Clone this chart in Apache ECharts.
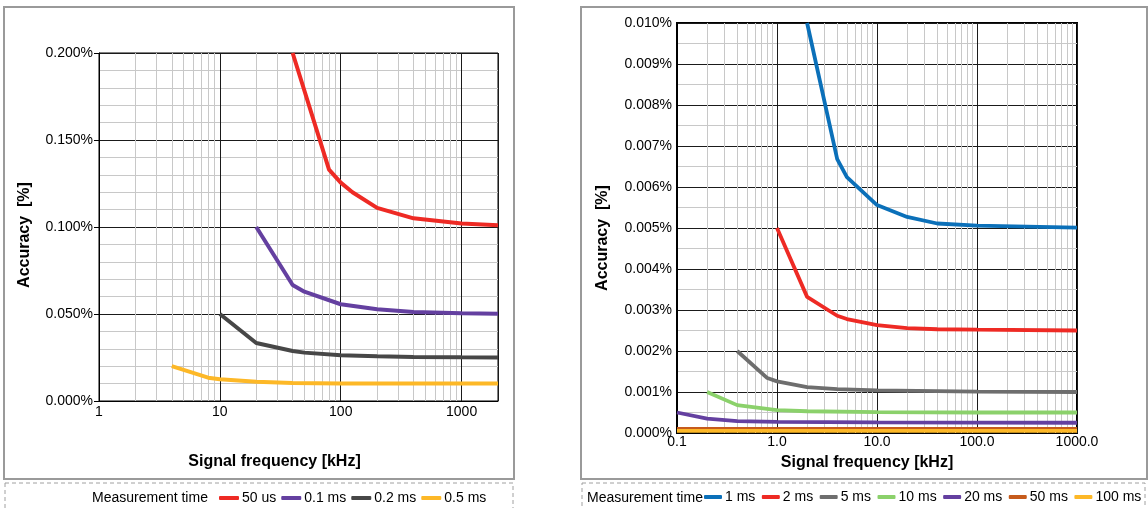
<!DOCTYPE html>
<html>
<head>
<meta charset="utf-8">
<script src="https://cdn.jsdelivr.net/npm/echarts@6/dist/echarts.min.js"></script>
<style>
html,body{margin:0;padding:0;background:#fff;}
#c{width:1148px;height:508px;}
</style>
</head>
<body>
<div id="c"></div>
<script>
// ---------- Left chart data (Accuracy in %) ----------
const leftNames = ['50 us', '0.1 ms', '0.2 ms', '0.5 ms'];
const L_us50_f = [40, 80, 100, 125, 200, 400, 1000, 2000];
const L_us50_v = [0.200, 0.133, 0.1255, 0.120, 0.111, 0.105, 0.102, 0.101];
const L_ms01_f = [20, 40, 50, 100, 200, 400, 1000, 2000];
const L_ms01_v = [0.100, 0.0667, 0.0628, 0.0556, 0.0527, 0.0511, 0.0504, 0.0502];
const L_ms02_f = [10, 20, 40, 50, 100, 200, 400, 1000, 2000];
const L_ms02_v = [0.050, 0.0333, 0.0287, 0.0278, 0.0263, 0.0257, 0.0253, 0.0251, 0.0250];
const L_ms05_f = [4, 8, 10, 20, 40, 100, 1000, 2000];
const L_ms05_v = [0.020, 0.0134, 0.0125, 0.0111, 0.0104, 0.0101, 0.0100, 0.0100];

// ---------- Right chart data (Accuracy in %) ----------
const rightNames = ['1 ms', '2 ms', '5 ms', '10 ms', '20 ms', '50 ms', '100 ms'];
const R_1_f = [2, 4, 5, 10, 20, 40, 100, 1000];
const R_1_v = [0.0100, 0.00668, 0.00624, 0.00556, 0.00527, 0.00511, 0.00506, 0.00501];
const R_2_f = [1, 2, 4, 5, 10, 20, 40, 100, 1000];
const R_2_v = [0.0050, 0.00332, 0.00286, 0.00278, 0.00263, 0.00256, 0.00253, 0.00252, 0.00250];
const R_5_f = [0.4, 0.8, 1, 2, 4, 10, 100, 1000];
const R_5_v = [0.0020, 0.00134, 0.00126, 0.00112, 0.00107, 0.00104, 0.00101, 0.00100];
const R_10_f = [0.2, 0.4, 1, 2, 10, 100, 1000];
const R_10_v = [0.0010, 0.00068, 0.00056, 0.00053, 0.00051, 0.00050, 0.00050];
const R_20_f = [0.1, 0.2, 0.4, 1, 10, 1000];
const R_20_v = [0.0005, 0.00035, 0.00029, 0.00027, 0.00026, 0.00025];
const R_50_f = [0.1, 1000];
const R_50_v = [0.0001, 0.0001];
const R_100_f = [0.1, 1000];
const R_100_v = [0.00005, 0.00005];

// axis ranges / labels
const leftX = {min: 1, max: 2000};
const leftY = {min: 0, max: 0.2, interval: 0.05};
const rightX = {min: 0.1, max: 1000};
const rightY = {min: 0, max: 0.01, interval: 0.001};
const xTitle = 'Signal frequency [kHz]';
const yTitle = 'Accuracy  [%]';
const legendTitle = 'Measurement time';

// minor log grid positions (2..9 within each decade)
function minorLogTicks(lo, hi) {
  const out = [];
  for (let d = lo; d < hi; d *= 10) {
    for (let k = 2; k <= 9; k++) {
      const v = +(d * k).toPrecision(6);
      if (v > lo && v < hi) out.push(v);
    }
  }
  return out;
}
const leftMinorX = minorLogTicks(1, 2000);
const rightMinorX = minorLogTicks(0.1, 1000);

const zip = (f, v) => f.map((x, i) => [x, v[i]]);

const FONT = '"Liberation Sans", Arial, sans-serif';
const leftColors = ['#ee2a24', '#6440a0', '#474747', '#fdb827'];
const rightColors = ['#0b70b9', '#ee2a24', '#6e6e6e', '#8bd16b', '#6440a0', '#c65b1c', '#fdb827'];

const leftData = [zip(L_us50_f, L_us50_v), zip(L_ms01_f, L_ms01_v), zip(L_ms02_f, L_ms02_v), zip(L_ms05_f, L_ms05_v)];
const rightData = [zip(R_1_f, R_1_v), zip(R_2_f, R_2_v), zip(R_5_f, R_5_v), zip(R_10_f, R_10_v),
                   zip(R_20_f, R_20_v), zip(R_50_f, R_50_v), zip(R_100_f, R_100_v)];

const minorLineStyle = {color: '#c8c8c8', width: 1, type: 'solid'};
const majorLineStyle = {color: '#1a1a1a', width: 1, type: 'solid'};

function gridSeries(xi, vals) {
  return {
    type: 'line', xAxisIndex: xi, yAxisIndex: xi, data: [], z: 1, silent: true,
    markLine: {
      silent: true, symbol: ['none', 'none'], label: {show: false}, animation: false,
      lineStyle: minorLineStyle, emphasis: {disabled: true},
      data: vals.map(v => ({xAxis: v}))
    }
  };
}

const series = [gridSeries(0, leftMinorX), gridSeries(1, rightMinorX)];
leftNames.forEach((n, i) => series.push({
  name: n, type: 'line', xAxisIndex: 0, yAxisIndex: 0, data: leftData[i],
  showSymbol: false, symbol: 'none', z: 5, lineStyle: {width: 4, color: leftColors[i]},
  itemStyle: {color: leftColors[i]}, animation: false
}));
rightNames.forEach((n, i) => series.push({
  name: n, type: 'line', xAxisIndex: 1, yAxisIndex: 1, data: rightData[i],
  showSymbol: false, symbol: 'none', z: 5, lineStyle: {width: 3.8, color: rightColors[i]},
  itemStyle: {color: rightColors[i]}, animation: false
}));

function xAxisCfg(gi, rng, fmt, gap, margin, shiftPad, showMax) {
  return {
    type: 'log', gridIndex: gi, min: rng.min, max: rng.max, logBase: 10, z: 3,
    name: xTitle, nameLocation: 'middle', nameGap: gap,
    nameTextStyle: {fontFamily: FONT, fontWeight: 'bold', fontSize: 16, color: '#000', padding: [0, shiftPad, 0, 0]},
    axisLine: {show: true, lineStyle: {color: '#000', width: 1}},
    axisTick: {show: false},
    axisLabel: {fontFamily: FONT, fontSize: 14, color: '#000', margin: margin, formatter: fmt, showMaxLabel: showMax},
    splitLine: {show: true, lineStyle: majorLineStyle},
    minorTick: {show: false}, minorSplitLine: {show: false}
  };
}
function yAxisCfg(gi, rng, minorN, margin, tickLen, shiftPad) {
  return {
    type: 'value', gridIndex: gi, min: rng.min, max: rng.max, interval: rng.interval, z: 3,
    name: yTitle, nameLocation: 'middle', nameGap: 66, nameRotate: 90,
    nameTextStyle: {fontFamily: FONT, fontWeight: 'bold', fontSize: 16, color: '#000', padding: [0, shiftPad, 0, 0]},
    axisLine: {show: true, lineStyle: {color: '#000', width: 1}},
    axisTick: {show: tickLen > 0, length: tickLen, lineStyle: {color: '#000'}},
    axisLabel: {fontFamily: FONT, fontSize: 14, color: '#000', margin: margin,
      formatter: v => v.toFixed(3) + '%'},
    splitLine: {show: true, lineStyle: majorLineStyle},
    minorTick: {show: false, splitNumber: minorN},
    minorSplitLine: {show: true, lineStyle: minorLineStyle}
  };
}

const option = {
  animation: false,
  backgroundColor: '#fff',
  grid: [
    {left: 99, top: 53, width: 399, height: 348, show: true, borderColor: '#000', borderWidth: 1, backgroundColor: '#fff'},
    {left: 677, top: 23, width: 400, height: 410, show: true, borderColor: '#000', borderWidth: 2, backgroundColor: '#fff'}
  ],
  xAxis: [
    xAxisCfg(0, leftX, v => String(Math.round(v)), 53, 4, 48, false),
    xAxisCfg(1, rightX, v => (+v).toFixed(1), 22, 2, 20, true)
  ],
  yAxis: [
    yAxisCfg(0, leftY, 5, 6, 5, 16),
    yAxisCfg(1, rightY, 2, 5, 0, 20)
  ],
  legend: [
    {data: leftNames, left: 219, top: 491, itemWidth: 20, itemHeight: 4, itemGap: 5, icon: 'roundRect',
     textStyle: {fontFamily: FONT, fontSize: 14, color: '#000', padding: [0, 0, 0, -2]}, padding: 0, selectedMode: false},
    {data: rightNames, left: 704, top: 490, itemWidth: 18, itemHeight: 4, itemGap: 6.5, icon: 'roundRect',
     textStyle: {fontFamily: FONT, fontSize: 14, color: '#000', padding: [0, 0, 0, -2]}, padding: 0, selectedMode: false}
  ],
  graphic: [
    {type: 'rect', shape: {x: 4, y: 7, width: 510, height: 472}, style: {fill: 'none', stroke: '#9a9a9a', lineWidth: 2}, z: -10, silent: true},
    {type: 'rect', shape: {x: 581, y: 7, width: 566, height: 472}, style: {fill: 'none', stroke: '#9a9a9a', lineWidth: 2}, z: -10, silent: true},
    {type: 'rect', shape: {x: 5, y: 483, width: 508, height: 40}, style: {fill: 'none', stroke: '#a0a0a0', lineWidth: 1, lineDash: [4, 3]}, z: -10, silent: true},
    {type: 'rect', shape: {x: 582, y: 483, width: 563, height: 40}, style: {fill: 'none', stroke: '#a0a0a0', lineWidth: 1, lineDash: [4, 3]}, z: -10, silent: true},
    {type: 'text', x: 92, y: 498, style: {text: legendTitle, font: '14px ' + FONT, fill: '#000', textVerticalAlign: 'middle'}, silent: true},
    {type: 'text', x: 587, y: 498, style: {text: legendTitle, font: '14px ' + FONT, fill: '#000', textVerticalAlign: 'middle'}, silent: true}
  ],
  series: series
};

const chart = echarts.init(document.getElementById('c'), null, {renderer: 'canvas'});
chart.setOption(option);
</script>
</body>
</html>
